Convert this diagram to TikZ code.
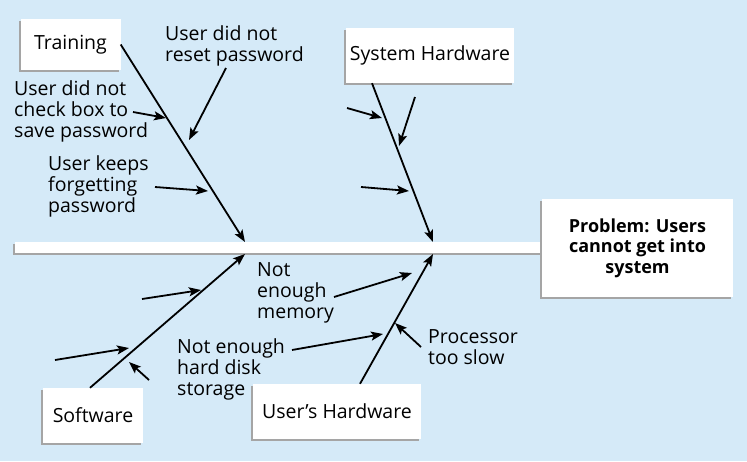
\documentclass[tikz,border=0pt]{standalone}
\usepackage{fontspec}
\setmainfont{Open Sans}
\usetikzlibrary{%
  arrows.meta,
  positioning,
  shadows,
  calc
}
\definecolor{fondbleu}{RGB}{213,234,248}
\definecolor{ombre}{RGB}{165,165,165}

\tikzset{
  boite/.style={fill=white, inner sep=0pt,
    font=\fontsize{19.5}{21}\selectfont,
    drop shadow={shadow xshift=-1.6pt, shadow yshift=-1.6pt,
                 fill=ombre, opacity=1}},
  cause/.style={inner sep=0pt, align=left, anchor=west,
    font=\fontsize{19.5}{21}\selectfont},
  arete/.style={line width=1.8pt, ->},
}

\begin{document}
\begin{tikzpicture}[
  x=1pt, y=-1pt,
  >={Stealth[length=12pt, width=9pt, inset=2.5pt]},
]
  \useasboundingbox (0,0) rectangle (747,461) ;
  \fill [fondbleu] (0,0) rectangle (747,461) ;

  % arete centrale et probleme
  \node [boite, minimum width=530pt, minimum height=11pt] (epine)
        at (280,247.5) {} ;
  \node [boite, minimum width=191pt, minimum height=98pt, align=center,
         font=\fontsize{18}{20.5}\selectfont\bfseries] (probleme)
        at (637.5,248) {Problem: Users\\cannot get into\\system} ;

  % les quatre categories
  \node [boite, minimum width=100pt, minimum height=51pt] (formation)
        at (70.5,44.5) {Training} ;
  \node [boite, minimum width=168pt, minimum height=55pt] (systeme)
        at (430,55.5) {System Hardware} ;
  \node [boite, minimum width=100pt, minimum height=55pt] (logiciel)
        at (93,415.5) {Software} ;
  \node [boite, minimum width=168pt, minimum height=55pt] (poste)
        at (337,411.5) {User’s Hardware} ;

  \coordinate (jF) at (245,242) ;
  \coordinate (jS) at (433,242) ;
  \coordinate (jL) at (245,254) ;
  \coordinate (jP) at (433,254) ;

  \draw [arete] (formation.east) -- (jF) ;
  \draw [arete] ([xshift=-58pt]systeme.south) -- (jS) ;
  \draw [arete] ([xshift=-3pt]logiciel.north) -- (jL) ;
  \draw [arete] ([xshift=23pt]poste.north) -- (jP) ;

  % causes : formation
  \node [cause] (reset)    at (165,46)  {User did not\\reset password} ;
  \node [cause] (case)     at (14,111)  {User did not\\check box to\\save password} ;
  \node [cause] (oubli)    at (48,186)  {User keeps\\forgetting\\password} ;
  \coordinate (f1a) at (226,68) ;  \coordinate (f1b) at (189,140) ;
  \coordinate (f2a) at (133,112) ; \coordinate (f2b) at (166,118) ;
  \coordinate (f3a) at (155,187) ; \coordinate (f3b) at (208,191) ;
  \foreach \i in {1,2,3} {
    \draw [arete] (f\i a) -- (f\i b) ;
  }

  % causes : materiel systeme
  \coordinate (s1a) at (347,108) ; \coordinate (s1b) at (382,118) ;
  \coordinate (s2a) at (415,97) ;  \coordinate (s2b) at (399,146) ;
  \coordinate (s3a) at (361,187) ; \coordinate (s3b) at (409,191) ;
  \foreach \i in {1,2,3} {
    \draw [arete] (s\i a) -- (s\i b) ;
  }

  % causes : logiciel
  \coordinate (l1a) at (142,299) ; \coordinate (l1b) at (201,290) ;
  \coordinate (l2a) at (55,360) ;  \coordinate (l2b) at (129,348) ;
  \coordinate (l3a) at (149,380) ; \coordinate (l3b) at (129,362) ;
  \foreach \i in {1,2,3} {
    \draw [arete] (l\i a) -- (l\i b) ;
  }

  % causes : materiel utilisateur
  \node [cause] (memoire)  at (257,293) {Not\\enough\\memory} ;
  \node [cause] (disque)   at (177,369) {Not enough\\hard disk\\storage} ;
  \node [cause] (lent)     at (428,347) {Processor\\too slow} ;
  \coordinate (p1a) at (334,297) ; \coordinate (p1b) at (412,273) ;
  \coordinate (p2a) at (292,350) ; \coordinate (p2b) at (383,334) ;
  \coordinate (p3a) at (421,347) ; \coordinate (p3b) at (395,323) ;
  \foreach \i in {1,2,3} {
    \draw [arete] (p\i a) -- (p\i b) ;
  }
\end{tikzpicture}
\end{document}
